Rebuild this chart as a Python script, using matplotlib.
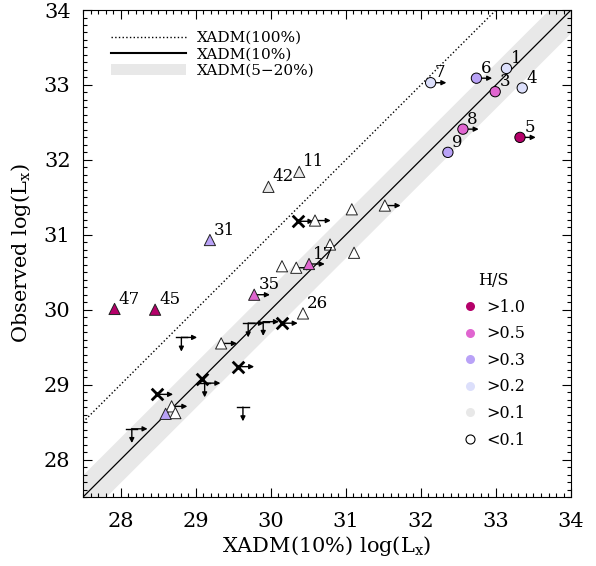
import matplotlib.pyplot as plt
from matplotlib.lines import Line2D
from matplotlib.patches import Patch
import numpy as np

plt.rcParams['font.family'] = 'DejaVu Serif'
plt.rcParams['mathtext.fontset'] = 'dejavuserif'

OUTPUT_FILE = 'out.png'

# H/S colour classes
HS_LABELS = ['>1.0', '>0.5', '>0.3', '>0.2', '>0.1', '<0.1']
HS_COLORS = ['#b5006a', '#e065d0', '#b9a2f7', '#dcdffb', '#e8e8e8', 'white']

# circles: predicted (XADM 10%) log Lx, observed log Lx, H/S class, x lower limit, name
circ_x = [33.14, 32.74, 32.13, 32.99, 33.35, 32.56, 33.32, 32.36]
circ_y = [33.22, 33.09, 33.03, 32.91, 32.96, 32.41, 32.30, 32.10]
circ_hs = [3, 2, 3, 1, 3, 1, 0, 2]
circ_lim = [0, 1, 1, 0, 0, 1, 1, 0]
circ_name = ['1', '6', '7', '3', '4', '8', '5', '9']

# triangles
tri_x = [27.92, 28.46, 29.19, 29.97, 30.38, 29.78, 30.51, 30.43,
         30.15, 30.34, 30.79, 31.11, 30.59, 31.08, 31.52, 29.34,
         28.68, 28.73, 28.60]
tri_y = [30.01, 30.00, 30.93, 31.64, 31.84, 30.20, 30.61, 29.95,
         30.58, 30.56, 30.87, 30.76, 31.19, 31.34, 31.39, 29.55,
         28.71, 28.62, 28.61]
tri_hs = [0, 0, 2, 4, 4, 1, 1, 5,
          5, 5, 5, 5, 5, 5, 5, 5,
          5, 5, 2]
tri_lim = [0, 0, 0, 0, 0, 1, 1, 0,
           0, 1, 0, 0, 1, 0, 1, 1,
           1, 0, 0]
tri_name = ['47', '45', '31', '42', '11', '35', '17', '26',
            '', '', '', '', '', '', '', '', '', '', '']

# crosses
crs_x = [30.36, 30.15, 29.57, 29.08, 28.49]
crs_y = [31.18, 29.82, 29.24, 29.07, 28.87]
crs_lim = [1, 1, 1, 0, 1]

# upper limits in observed Lx
ul_x = [28.15, 28.81, 29.12, 29.63, 29.70, 29.90]
ul_y = [28.41, 29.63, 29.02, 28.70, 29.82, 29.84]
ul_lim = [1, 1, 1, 0, 1, 1]

LIMS = (27.5, 34)
ARR = 0.21


def right_arrow(ax, x, y):
    ax.annotate('', xy=(x + ARR, y), xytext=(x, y), zorder=2,
                arrowprops=dict(arrowstyle='-|>', lw=1, color='k',
                                mutation_scale=7, shrinkA=0, shrinkB=0))


def down_arrow(ax, x, y):
    ax.plot([x - 0.075, x + 0.075], [y, y], 'k-', lw=1, zorder=2)
    ax.annotate('', xy=(x, y - 0.19), xytext=(x, y), zorder=2,
                arrowprops=dict(arrowstyle='-|>', lw=1, color='k',
                                mutation_scale=7, shrinkA=0, shrinkB=0))


def label(ax, x, y, s):
    ax.annotate(s, (x, y), xytext=(3, 1), textcoords='offset points',
                ha='left', va='bottom', fontsize=12, zorder=5)


def main():
    fig = plt.figure(figsize=(5.96, 5.66), dpi=100)
    ax = fig.add_axes([0.1393, 0.1219, 0.8188, 0.8604])

    xx = np.array(LIMS)
    ax.fill_between(xx, xx - 0.301, xx + 0.301, color='#e8e8e8', lw=0, zorder=0)
    ax.plot(xx, xx, 'k-', lw=0.9, zorder=1)
    ax.plot(xx, xx + 1, 'k:', lw=1, zorder=1)

    for x, y, l in zip(circ_x, circ_y, circ_lim):
        if l:
            right_arrow(ax, x, y)
    for x, y, l in zip(tri_x, tri_y, tri_lim):
        if l:
            right_arrow(ax, x, y)
    for x, y, l in zip(crs_x, crs_y, crs_lim):
        if l:
            right_arrow(ax, x, y)
    for x, y, l in zip(ul_x, ul_y, ul_lim):
        down_arrow(ax, x, y)
        if l:
            right_arrow(ax, x, y)

    ax.scatter(circ_x, circ_y, s=55, c=[HS_COLORS[i] for i in circ_hs],
               edgecolors='k', linewidths=0.7, zorder=3)
    ax.scatter(tri_x, tri_y, s=65, marker='^', c=[HS_COLORS[i] for i in tri_hs],
               edgecolors='#222222', linewidths=0.7, zorder=3)
    ax.scatter(crs_x, crs_y, s=70, marker='x', c='k', linewidths=2, zorder=3)

    for x, y, s in zip(circ_x, circ_y, circ_name):
        label(ax, x, y, s)
    for x, y, s in zip(tri_x, tri_y, tri_name):
        if s:
            label(ax, x, y, s)

    ax.set_xlim(*LIMS)
    ax.set_ylim(*LIMS)
    ax.set_xticks(np.arange(28, 35))
    ax.set_yticks(np.arange(28, 35))
    ax.set_xticks(np.arange(27.5, 34.01, 0.1), minor=True)
    ax.set_yticks(np.arange(27.5, 34.01, 0.1), minor=True)
    ax.tick_params(which='both', direction='in', top=True, right=True,
                   labelsize=15, width=0.8)
    ax.tick_params(which='major', length=6.5)
    ax.tick_params(which='minor', length=3)
    ax.tick_params(axis='x', pad=11)
    ax.tick_params(axis='y', pad=9)
    ax.set_xlabel(r'XADM(10%) log(L$_{\rm x}$)', fontsize=15, labelpad=2)
    ax.set_ylabel(r'Observed log(L$_{\rm x}$)', fontsize=15, labelpad=8)

    handles = [Line2D([], [], color='k', ls=':', lw=1),
               Line2D([], [], color='k', ls='-', lw=1.5),
               Patch(facecolor='#e8e8e8', edgecolor='none')]
    leg1 = ax.legend(handles, ['XADM(100%)', 'XADM(10%)', 'XADM(5\u221220%)'],
                     loc='upper left', bbox_to_anchor=(0.03, 0.985),
                     frameon=False, fontsize=11, handlelength=4.9,
                     labelspacing=0.15, handletextpad=0.7)
    ax.add_artist(leg1)

    hs_handles = [Line2D([], [], ls='none', marker='o', markersize=6.5,
                         markerfacecolor=c,
                         markeredgecolor='k' if c == 'white' else 'none',
                         markeredgewidth=0.8)
                  for c in HS_COLORS]
    ax.legend(hs_handles, HS_LABELS, title='H/S', loc='lower right',
              bbox_to_anchor=(0.935, 0.07), frameon=False, fontsize=11.5,
              title_fontsize=11.5, labelspacing=0.6, handlelength=1,
              handletextpad=0.5)

    fig.savefig(OUTPUT_FILE, dpi=100)


if __name__ == '__main__':
    main()
